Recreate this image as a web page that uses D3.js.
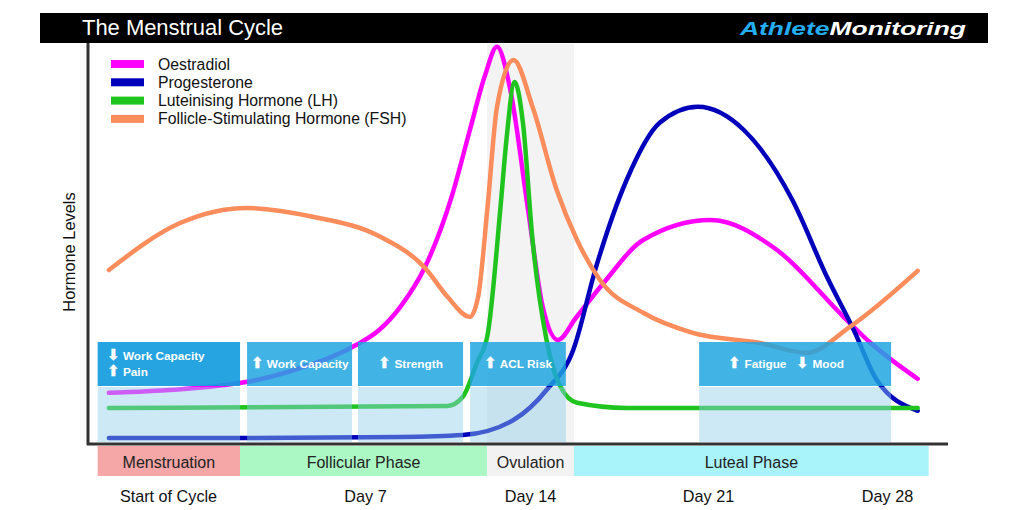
<!DOCTYPE html>
<html>
<head>
<meta charset="UTF-8">
<title>The Menstrual Cycle</title>
<script src="https://cdn.jsdelivr.net/npm/d3@7"></script>
<style>
  body { margin: 0; background: #fff; }
  svg { display: block; font-family: "Liberation Sans", Arial, sans-serif; }
</style>
</head>
<body>
<div id="chart"></div>
<script>
// days along the cycle, and the labels under the chart
const dayTicks = [0, 7, 14, 21, 28];
const dayLabels = ["Start of Cycle", "Day 7", "Day 14", "Day 21", "Day 28"];

// hormone curves as [day, relative level 0-100]
const oestradiol = [
  [-2.1, 12.8], [2.6, 15.3], [4.7, 19], [6.7, 24.8], [7.6, 28.5], [8.5, 34.3],
  [9.55, 44.3], [10.7, 62.3], [11.45, 78.5], [12.1, 92.3], [12.6, 99.3],
  [13.15, 89], [13.9, 59.3], [14.5, 34.3], [15.1, 26], [15.8, 31.5],
  [16.9, 40.3], [18.45, 51], [21.1, 56], [23.7, 48.5], [26.3, 31.8],
  [27.35, 25.3], [29.2, 16.3]
];
const progesterone = [
  [-2.1, 1.5], [2.6, 1.5], [8.5, 1.75], [11.15, 2.25], [13.3, 6], [14.65, 13.5],
  [15.7, 23.5], [16.6, 44.3], [17.8, 66], [19.1, 80.3], [20.6, 84.3],
  [22.4, 78.5], [24.3, 61], [25.65, 41.8], [26.7, 28.5], [27.6, 16], [29.2, 8.3]
];
const luteinising = [
  [-2.1, 9], [10.5, 9.5], [11.15, 11.8], [11.75, 20.3], [12.2, 27.3],
  [12.75, 59.3], [13.0, 76], [13.35, 90.5], [13.7, 80.3], [14.1, 51],
  [14.65, 26], [15.2, 14.3], [15.85, 10.3], [17.8, 9], [29.2, 9]
];
const follicle = [
  [-2.1, 43.5], [0.45, 55.3], [2.8, 59], [5.15, 56.8], [7.65, 51.8], [9.55, 44],
  [10.5, 36.8], [11.45, 31.8], [11.8, 36.8], [12.2, 59.3], [12.6, 84.3],
  [13.3, 96], [14.1, 84.3], [15.05, 63.5], [15.85, 51], [16.75, 41],
  [18.45, 32.8], [20.4, 27.8], [23.0, 25.3], [24.85, 22.8], [26.55, 29.3],
  [29.2, 43.3]
];

const seriesNames = ["Oestradiol", "Progesterone", "Luteinising Hormone (LH)", "Follicle-Stimulating Hormone (FSH)"];
const seriesData = [oestradiol, progesterone, luteinising, follicle];

// cycle phases (day ranges)
const phaseNames = ["Menstruation", "Follicular Phase", "Ovulation", "Luteal Phase"];
const phaseStart = [-2.5, 2.56, 12.18, 15.73];
const phaseEnd = [2.56, 12.18, 15.73, 29.63];

// performance effect windows (day ranges) and their notes
const effectStart = [-2.5, 2.81, 6.75, 11.46, 20.65];
const effectEnd = [2.56, 6.54, 11.16, 15.41, 28.16];
const effectText = [
  ["⬇ Work Capacity", "⬆ Pain"],
  ["⬆ Work Capacity"],
  ["⬆ Strength"],
  ["⬆ ACL Risk"],
  ["⬆ Fatigue   ⬇ Mood"]
];

const W = 1024, H = 510;
const plotTop = 44, plotBottom = 444, axisLeft = 88, axisRight = 948;

const svg = d3.select("#chart").append("svg")
  .attr("width", W)
  .attr("height", H);

const x = d3.scaleLinear()
  .domain(dayTicks)
  .range([168, 365, 530, 708, 887]);

const y = d3.scaleLinear()
  .domain([0, 100])
  .range([plotBottom, plotTop]);

const color = d3.scaleOrdinal()
  .domain(seriesNames)
  .range(["#ff00ff", "#0000bb", "#1fc41f", "#fb8c5c"]);

const phaseColor = d3.scaleOrdinal()
  .domain(phaseNames)
  .range(["#f5a6a6", "#abf8c4", "#f2f2f2", "#a9f3fb"]);

// header bar
svg.append("rect")
  .attr("x", 40).attr("y", 13)
  .attr("width", 948).attr("height", 30)
  .attr("fill", "#000");
svg.append("text")
  .attr("x", 82).attr("y", 35)
  .attr("fill", "#fff")
  .attr("font-size", 22)
  .attr("font-weight", 500)
  .attr("textLength", 201)
  .text("The Menstrual Cycle");

const logo = svg.append("text")
  .attr("x", 740).attr("y", 35)
  .attr("font-size", 18)
  .attr("font-weight", 900)
  .attr("font-style", "italic")
  .attr("textLength", 226)
  .attr("lengthAdjust", "spacingAndGlyphs");
logo.append("tspan").attr("fill", "#22aef0").text("Athlete");
logo.append("tspan").attr("fill", "#fff").text("Monitoring");

// ovulation shading behind the curves
const ovu = phaseNames.indexOf("Ovulation");
svg.append("rect")
  .attr("x", x(phaseStart[ovu]))
  .attr("y", plotTop)
  .attr("width", x(phaseEnd[ovu]) - x(phaseStart[ovu]))
  .attr("height", plotBottom - plotTop)
  .attr("fill", "#f3f3f3");

// legend
const legend = svg.append("g");
seriesNames.forEach((name, i) => {
  const ly = 64 + i * 18.3;
  legend.append("rect")
    .attr("x", 111).attr("y", ly - 4)
    .attr("width", 33).attr("height", 8)
    .attr("fill", color(name));
  legend.append("text")
    .attr("x", 158).attr("y", ly + 5.5)
    .attr("font-size", 15.8)
    .attr("fill", "#111")
    .text(name);
});

// curves
const line = d3.line()
  .x(d => x(d[0]))
  .y(d => y(d[1]))
  .curve(d3.curveMonotoneX);

const drawOrder = [0, 1, 3, 2];
drawOrder.forEach(i => {
  svg.append("path")
    .datum(seriesData[i])
    .attr("d", line)
    .attr("fill", "none")
    .attr("stroke", color(seriesNames[i]))
    .attr("stroke-width", 4.5)
    .attr("stroke-linecap", "round")
    .attr("stroke-linejoin", "round");
});

// axes lines
svg.append("line")
  .attr("x1", axisLeft).attr("x2", axisLeft)
  .attr("y1", 43).attr("y2", plotBottom + 1)
  .attr("stroke", "#333").attr("stroke-width", 3);
svg.append("line")
  .attr("x1", axisLeft - 1).attr("x2", axisRight)
  .attr("y1", plotBottom).attr("y2", plotBottom)
  .attr("stroke", "#333").attr("stroke-width", 3);

// write a note, with the arrow glyphs a bit larger than the words
function addNote(t, s) {
  s.split(/([⬆⬇])/).filter(p => p.length).forEach(p => {
    const sp = t.append("tspan").text(p);
    if (p === "⬆" || p === "⬇") sp.attr("font-size", 14.5);
  });
}

// effect boxes over the curves
const boxTop = 342, boxMid = 386, boxBottom = 442;
effectText.forEach((lines, i) => {
  const bx = x(effectStart[i]);
  const bw = x(effectEnd[i]) - bx;
  svg.append("rect")
    .attr("x", bx).attr("y", boxMid + 1)
    .attr("width", bw).attr("height", boxBottom - boxMid - 1)
    .attr("fill", "rgb(144,206,233)")
    .attr("fill-opacity", 0.45);
  svg.append("rect")
    .attr("x", bx).attr("y", boxTop)
    .attr("width", bw).attr("height", boxMid - boxTop)
    .attr("fill", i === 0 ? "rgb(18,156,222)" : "rgb(30,164,224)")
    .attr("fill-opacity", i === 0 ? 0.92 : 0.84);
  if (lines.length > 1) {
    lines.forEach((s, j) => {
      const t = svg.append("text")
        .attr("x", bx + 9)
        .attr("y", 360 + j * 15.5)
        .attr("fill", "#fff")
        .attr("font-size", 11.8)
        .attr("font-weight", "bold")
        .attr("xml:space", "preserve");
      addNote(t, s);
    });
  } else {
    const t = svg.append("text")
      .attr("x", bx + bw / 2 - (i === 4 ? 9 : 0))
      .attr("y", 368)
      .attr("text-anchor", "middle")
      .attr("fill", "#fff")
      .attr("font-size", 11.8)
      .attr("font-weight", "bold")
      .attr("xml:space", "preserve");
    addNote(t, lines[0]);
  }
});

// phase bar
phaseNames.forEach((name, i) => {
  const px = x(phaseStart[i]);
  const pw = x(phaseEnd[i]) - px;
  svg.append("rect")
    .attr("x", px).attr("y", 446)
    .attr("width", pw).attr("height", 30)
    .attr("fill", phaseColor(name));
  svg.append("text")
    .attr("x", px + pw / 2).attr("y", 467.5)
    .attr("text-anchor", "middle")
    .attr("font-size", 16)
    .attr("fill", "#222")
    .text(name);
});

// day labels via bottom axis
const xAxis = d3.axisBottom(x)
  .tickValues(dayTicks)
  .tickFormat((d, i) => dayLabels[i])
  .tickSize(0)
  .tickPadding(46.5);
const gx = svg.append("g")
  .attr("transform", `translate(0,${plotBottom})`)
  .call(xAxis);
gx.select(".domain").remove();
gx.selectAll("text")
  .attr("font-size", 16.2)
  .attr("font-family", "Liberation Sans, Arial, sans-serif")
  .attr("fill", "#111");

// y axis title
svg.append("text")
  .attr("transform", "translate(75,252) rotate(-90)")
  .attr("text-anchor", "middle")
  .attr("font-size", 16.4)
  .attr("fill", "#111")
  .text("Hormone Levels");
</script>
</body>
</html>
